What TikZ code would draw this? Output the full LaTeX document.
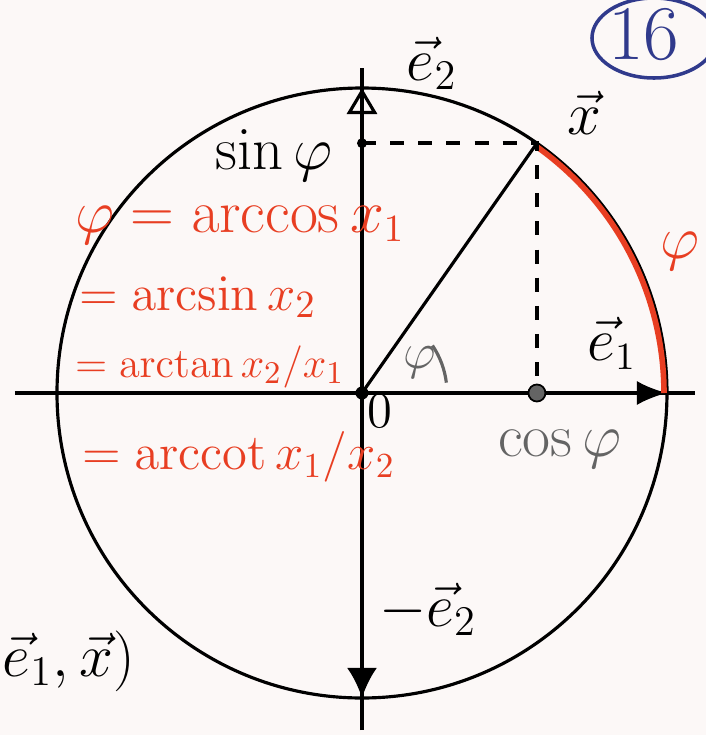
\documentclass[tikz,border=0pt]{standalone}
\usepackage{amsmath}
\usetikzlibrary{arrows.meta,positioning}
\definecolor{penred}{RGB}{232,62,34}
\definecolor{pengray}{RGB}{100,100,100}
\definecolor{penblue}{RGB}{48,58,140}
\definecolor{paper}{RGB}{252,248,247}

\begin{document}
\begin{tikzpicture}[x=0.01cm,y=0.01cm,line width=0.9pt,
  dot/.style={circle,fill,inner sep=0pt,minimum size=#1},
  redline/.style={text=penred,anchor=west,inner sep=1pt,font=\fontsize{#1}{#1}\selectfont},
  lbl/.style={font=\fontsize{#1}{#1}\selectfont}]
  % paper
  \path[use as bounding box,fill=paper] (-362,-342) rectangle (344,393);
  \coordinate (O) at (0,0);
  \coordinate (E1) at (305,0);
  \coordinate (E2) at (0,305);
  \coordinate (mE2) at (0,-305);
  \coordinate (X) at (55:305);
  %axes
  \draw (-347,0) -- (333,0);
  \draw (0,-337) -- (0,325);
  \draw (O) circle[radius=305];
  \draw[-{Latex[length=3mm,width=2.4mm]}] (O) -- (E1);
  \draw[-{Triangle[open,length=2.6mm,width=3mm]}] (O) -- (E2);
  \draw[-{Latex[length=3mm,width=3mm]}] (O) -- (mE2);
  %arc phi
  \draw[penred,line width=1.6pt] (O) ++(55:302) arc[start angle=55,end angle=0,radius=302];
  %projections
  \draw (O) -- (X);
  \draw[line width=1.2pt,dash pattern=on 4pt off 4pt] (O |- X) -- (X) -- (X |- O);
  \node[dot=1.3mm] (o) at (O) {};
  \node[dot=1mm] (s) at (O |- X) {};
  \node[dot=1.7mm,fill=pengray,draw=black,line width=0.5pt] (c) at (X |- O) {};
  \draw[pengray] (O) ++(7:85) arc[start angle=7,end angle=34,radius=85];
  %labels
  \node[lbl=18] (e2) at (70,330) {$\vec{e}_2$};
  \node[lbl=18] (x) at (222,280) {$\vec{x}$};
  \node[lbl=16] (sin) at (-88,238) {$\sin\varphi$};
  \node[lbl=18,text=penred] (phi) at (318,142) {$\varphi$};
  \node[lbl=16] (e1) at (250,50) {$\vec{e}_1$};
  \node[lbl=15,text=pengray] (ang) at (58,30) {$\varphi$};
  \node[lbl=15,inner sep=1pt] (zero) at (18,-18) {$0$};
  \node[lbl=16,text=pengray] (cos) at (198,-56) {$\cos\varphi$};
  \node[lbl=18] (me2) at (66,-216) {$-\vec{e}_2$};
  \node[lbl=18,anchor=east] (pair) at (-214,-268) {$\vec{e}_1,\vec{x})$};
  %number
  \draw[penblue,line width=1pt] (292,355) ellipse[x radius=62,y radius=40];
  \node[lbl=22,text=penblue] (num) at (282,358) {16};
  %formulas
  \node[redline=16] (f1) at (-292,168) {$\varphi = \arccos x_1$};
  \node[redline=15] (f2) at (-288,96) {$= \arcsin x_2$};
  \node[redline=13] (f3) at (-292,26) {$= \arctan x_2/x_1$};
  \node[redline=14.5] (f4) at (-285,-64) {$= \operatorname{arccot} x_1/x_2$};
\end{tikzpicture}
\end{document}
